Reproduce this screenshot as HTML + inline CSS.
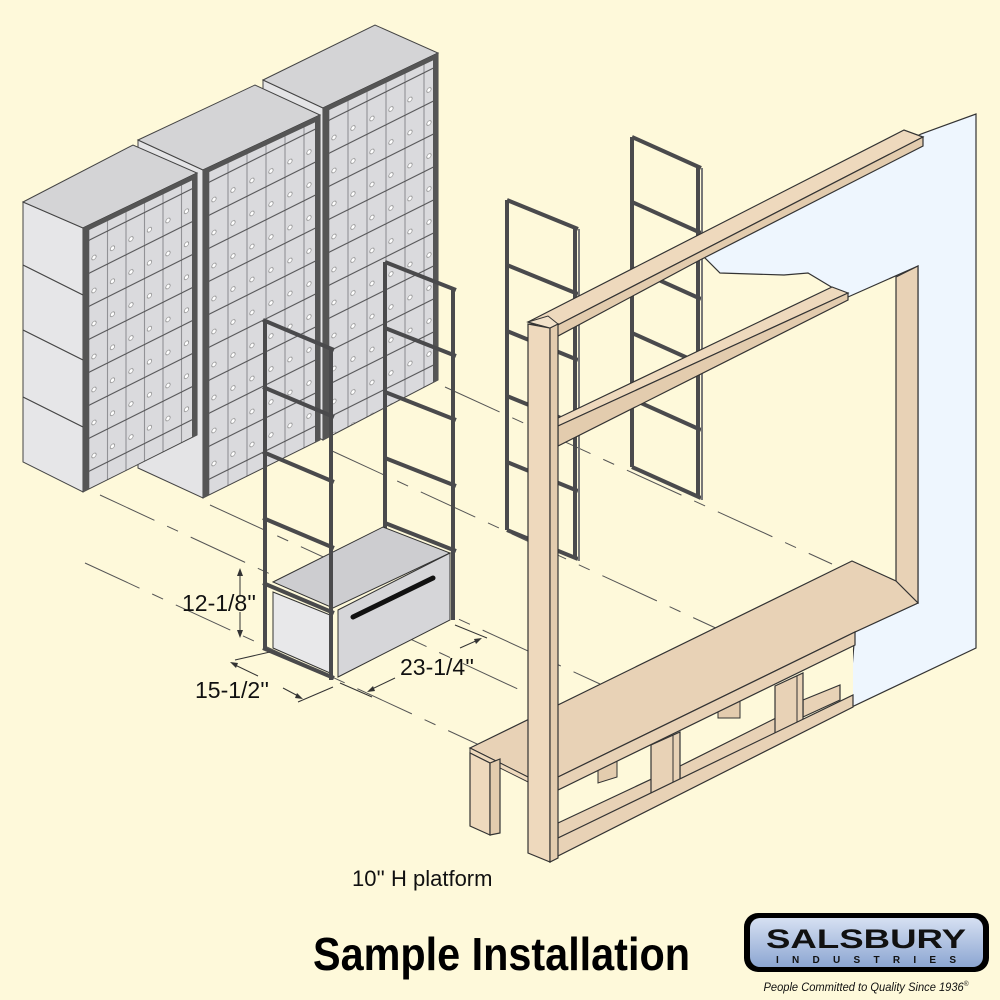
<!DOCTYPE html>
<html><head><meta charset="utf-8"><style>
html,body{margin:0;padding:0;background:#FEF9DA;}
svg{display:block}
</style></head><body>
<svg width="1000" height="1000" viewBox="0 0 1000 1000" xmlns="http://www.w3.org/2000/svg">
<defs>
<pattern id="g1" patternUnits="userSpaceOnUse" width="18.5" height="33" patternTransform="translate(89,240) skewY(-26.565)">
<rect width="18.5" height="33" fill="#DADADD" stroke="#8E8E92" stroke-width="1"/>
<line x1="0" y1="0" x2="18.5" y2="0" stroke="#333" stroke-width="1.5"/>
<circle cx="5" cy="20" r="2.2" fill="#fff" stroke="#888" stroke-width="0.7"/>
</pattern>
<pattern id="g2" patternUnits="userSpaceOnUse" width="19" height="33" patternTransform="translate(209,182) skewY(-26.565)">
<rect width="19" height="33" fill="#DADADD" stroke="#8E8E92" stroke-width="1"/>
<line x1="0" y1="0" x2="19" y2="0" stroke="#333" stroke-width="1.5"/>
<circle cx="5" cy="20" r="2.2" fill="#fff" stroke="#888" stroke-width="0.7"/>
</pattern>
<pattern id="g3" patternUnits="userSpaceOnUse" width="19" height="33" patternTransform="translate(329,120) skewY(-26.565)">
<rect width="19" height="33" fill="#DADADD" stroke="#8E8E92" stroke-width="1"/>
<line x1="0" y1="0" x2="19" y2="0" stroke="#333" stroke-width="1.5"/>
<circle cx="5" cy="20" r="2.2" fill="#fff" stroke="#888" stroke-width="0.7"/>
</pattern>
<linearGradient id="lg" x1="0" y1="0" x2="0" y2="1">
<stop offset="0" stop-color="#D6E0F2"/><stop offset="1" stop-color="#8CA6D2"/>
</linearGradient>
</defs>

<g stroke="#555" stroke-width="1" stroke-dasharray="60,14,12,14" fill="none">
<line x1="445" y1="387" x2="832" y2="564"/>
<line x1="330" y1="450" x2="720" y2="630"/>
<line x1="210" y1="505" x2="600" y2="684"/>
<line x1="100" y1="495" x2="520" y2="690"/>
<line x1="85" y1="563" x2="540" y2="773"/>
<line x1="205" y1="420" x2="262" y2="447"/>
</g>

<polygon points="263,80 323,108 323,440 263,412" fill="#E4E4E6" stroke="#444" stroke-width="1"/>
<polygon points="263,80 375,25 438,53 323,108" fill="#D4D4D6" stroke="#444" stroke-width="1"/>
<polygon points="323,108 438,53 438,380 323,440" fill="url(#g3)" stroke="#444" stroke-width="1"/>
<polygon points="323,108 329,105 329,437 323,440" fill="#555"/>
<polygon points="433,56 438,53 438,380 433,383" fill="#555"/>
<polygon points="323,108 438,53 438,58 323,113" fill="#555"/>

<polygon points="138,140 203,170 203,498 138,468" fill="#E4E4E6" stroke="#444" stroke-width="1"/>
<polygon points="138,140 255,85 320,115 203,170" fill="#D4D4D6" stroke="#444" stroke-width="1"/>
<polygon points="203,170 320,115 320,440 203,498" fill="url(#g2)" stroke="#444" stroke-width="1"/>
<polygon points="203,170 209,167 209,495 203,498" fill="#555"/>
<polygon points="315,118 320,115 320,440 315,443" fill="#555"/>
<polygon points="203,170 320,115 320,120 203,175" fill="#555"/>

<polygon points="23,202 83,228 83,492 23,462" fill="#E6E6E8" stroke="#444" stroke-width="1"/>
<g stroke="#444" stroke-width="1.2"><line x1="23" y1="265" x2="83" y2="295"/><line x1="23" y1="330" x2="83" y2="360"/><line x1="23" y1="397" x2="83" y2="427"/></g>
<polygon points="23,202 133,145 197,173 83,228" fill="#D4D4D6" stroke="#444" stroke-width="1"/>
<polygon points="83,228 197,173 197,435 83,492" fill="url(#g1)" stroke="#444" stroke-width="1"/>
<polygon points="83,228 89,225 89,489 83,492" fill="#555"/>
<polygon points="192,176 197,173 197,435 192,438" fill="#555"/>
<polygon points="83,228 197,173 197,178 83,233" fill="#555"/>

<polygon points="700,253 921,134 976,114 976,648 837,714 851,680 855,632 918,603 918,266 848,297 808,273 784,275 720,273" fill="#EEF6FE" stroke="#333" stroke-width="1.2"/>

<g fill="none" stroke="#4A4A4C" stroke-width="4">
<line x1="507" y1="200" x2="507" y2="530"/><line x1="575" y1="229" x2="575" y2="559"/>
<line x1="507" y1="200" x2="578" y2="229"/><line x1="507" y1="265" x2="578" y2="294"/><line x1="507" y1="331" x2="578" y2="360"/><line x1="507" y1="396" x2="578" y2="425"/><line x1="507" y1="462" x2="578" y2="491"/><line x1="507" y1="530" x2="578" y2="559"/>
<line x1="632" y1="137" x2="632" y2="467"/><line x1="698" y1="168" x2="698" y2="498"/>
<line x1="632" y1="137" x2="701" y2="168"/><line x1="632" y1="202" x2="701" y2="233"/><line x1="632" y1="268" x2="701" y2="299"/><line x1="632" y1="333" x2="701" y2="364"/><line x1="632" y1="399" x2="701" y2="430"/><line x1="632" y1="467" x2="701" y2="498"/>
</g>
<g stroke="#777" stroke-width="2"><line x1="579" y1="229" x2="579" y2="561"/><line x1="702" y1="168" x2="702" y2="500"/></g>

<polygon points="896,277 918,266 918,603 896,595" fill="#E8D2B6" stroke="#333" stroke-width="1.2"/>

<polygon points="528,322 904,130 923,137 548,330" fill="#EED9BD" stroke="#333" stroke-width="1.2"/>
<polygon points="548,330 923,137 923,146 700,260 558,336" fill="#E3CCAE" stroke="#333" stroke-width="1.2"/>

<polygon points="558,418 832,287 848,293 558,426" fill="#EED9BD" stroke="#333" stroke-width="1.2"/>
<polygon points="558,426 848,293 848,300 558,446" fill="#E3CCAE" stroke="#333" stroke-width="1.2"/>

<polygon points="558,789 853,650 853,695 558,845" fill="#FEF9DA"/>
<polygon points="598,765 617,757 617,777 598,783" fill="#E3CCAE" stroke="#333"/>
<polygon points="718,702 740,692 740,718 718,718" fill="#E3CCAE" stroke="#333"/>
<polygon points="558,823 673,769 673,784 558,838" fill="#E8D2B6" stroke="#333" stroke-width="1.2"/>
<polygon points="680,766 796,708 796,725 680,783" fill="#E8D2B6" stroke="#333" stroke-width="1.2"/>
<polygon points="803,700 840,685 840,700 803,717" fill="#E8D2B6" stroke="#333" stroke-width="1.2"/>
<polygon points="651,745 680,732 680,785 651,797" fill="#E8D2B6" stroke="#333" stroke-width="1.2"/>
<line x1="673" y1="735" x2="673" y2="788" stroke="#333"/>
<polygon points="775,686 803,673 803,728 775,740" fill="#E8D2B6" stroke="#333" stroke-width="1.2"/>
<line x1="797" y1="676" x2="797" y2="730" stroke="#333"/>
<polygon points="558,838 853,695 853,707 550,860" fill="#E8D2B6" stroke="#333" stroke-width="1.2"/>

<polygon points="470,748 852,561 896,581 918,603 855,632 558,777 528,777" fill="#E8D2B6" stroke="#333" stroke-width="1.2"/>
<polygon points="470,748 528,777 528,782 470,753" fill="#EED9BD" stroke="#333" stroke-width="1"/>
<polygon points="558,777 855,632 855,645 558,790" fill="#E8D2B6" stroke="#333" stroke-width="1.2"/>
<polygon points="470,753 490,763 490,835 470,826" fill="#EED9BD" stroke="#333" stroke-width="1.2"/>
<polygon points="490,763 500,759 500,833 490,835" fill="#E3CCAE" stroke="#333" stroke-width="1.2"/>

<polygon points="528,324 550,328 550,862 528,853" fill="#EED9BD" stroke="#333" stroke-width="1.2"/>
<polygon points="550,328 558,324 558,858 550,862" fill="#E3CCAE" stroke="#333" stroke-width="1.2"/>
<polygon points="528,322 548,316 558,324 550,328" fill="#F2E2CA" stroke="#333" stroke-width="1"/>

<g fill="none" stroke="#4A4A4C" stroke-width="4">
<line x1="385" y1="262" x2="385" y2="540"/><line x1="453" y1="290" x2="453" y2="620"/>
<line x1="385" y1="262" x2="456" y2="290"/><line x1="385" y1="328" x2="456" y2="356"/><line x1="385" y1="392" x2="456" y2="420"/><line x1="385" y1="458" x2="456" y2="486"/><line x1="385" y1="523" x2="456" y2="551"/>
</g>

<polygon points="273,582 383,527 450,553 333,608" fill="#CDCDD0" stroke="#333" stroke-width="1"/>
<polygon points="273,592 330,615 330,673 273,648" fill="#E8E8EA" stroke="#333" stroke-width="1"/>
<polygon points="338,610 450,553 450,620 338,677" fill="#D6D6D9" stroke="#333" stroke-width="1"/>
<line x1="353" y1="617" x2="433" y2="578" stroke="#111" stroke-width="5" stroke-linecap="round"/>

<g fill="none" stroke="#4A4A4C" stroke-width="4">
<line x1="265" y1="320" x2="265" y2="650"/><line x1="331" y1="350" x2="331" y2="680"/>
<line x1="263" y1="320" x2="334" y2="350"/><line x1="263" y1="387" x2="334" y2="417"/><line x1="263" y1="452" x2="334" y2="482"/><line x1="263" y1="518" x2="334" y2="548"/><line x1="263" y1="583" x2="334" y2="613"/><line x1="263" y1="648" x2="334" y2="678"/>
</g>

<g stroke="#333" stroke-width="1" fill="none">
<line x1="240" y1="572" x2="240" y2="596"/><line x1="240" y1="612" x2="240" y2="634"/>
<line x1="233" y1="664" x2="258" y2="676"/><line x1="283" y1="688" x2="300" y2="697"/>
<line x1="370" y1="690" x2="395" y2="678"/><line x1="460" y1="648" x2="478" y2="640"/>
<line x1="235" y1="660" x2="270" y2="652"/><line x1="298" y1="702" x2="333" y2="687"/>
<line x1="340" y1="683" x2="372" y2="697"/><line x1="455" y1="625" x2="487" y2="638"/>
</g>
<g fill="#333">
<polygon points="240,568 237,576 243,576"/><polygon points="240,638 237,630 243,630"/>
<polygon points="230,662 238,663 236,668"/><polygon points="303,699 295,698 297,693"/>
<polygon points="367,692 373,686 375,691"/><polygon points="482,638 476,644 474,639"/>
</g>
<g font-family="Liberation Sans, sans-serif" font-size="23" fill="#111">
<text x="182" y="611">12-1/8''</text>
<text x="195" y="698">15-1/2''</text>
<text x="400" y="675">23-1/4''</text>
<text x="352" y="886" font-size="22">10'' H platform</text>
</g>
<text x="313" y="970" font-family="Liberation Sans Narrow, Liberation Sans, sans-serif" font-weight="bold" font-size="46" textLength="377" lengthAdjust="spacingAndGlyphs" fill="#000">Sample Installation</text>

<rect x="744" y="913" width="245" height="59" rx="14" fill="#000"/>
<rect x="750" y="918" width="233" height="49" rx="10" fill="url(#lg)"/>
<text x="866" y="948" text-anchor="middle" font-family="Liberation Sans, sans-serif" font-weight="bold" font-size="27" textLength="200" lengthAdjust="spacingAndGlyphs" fill="#111">SALSBURY</text>
<text x="866" y="963" text-anchor="middle" font-family="Liberation Sans, sans-serif" font-weight="bold" font-size="10" textLength="180" lengthAdjust="spacing" fill="#111">INDUSTRIES</text>
<text x="866" y="991" text-anchor="middle" font-family="Liberation Sans Narrow, Liberation Sans, sans-serif" font-style="italic" font-size="12" textLength="205" lengthAdjust="spacingAndGlyphs" fill="#111">People Committed to Quality Since 1936<tspan font-size="7" dy="-5">®</tspan></text>
</svg>
</body></html>
